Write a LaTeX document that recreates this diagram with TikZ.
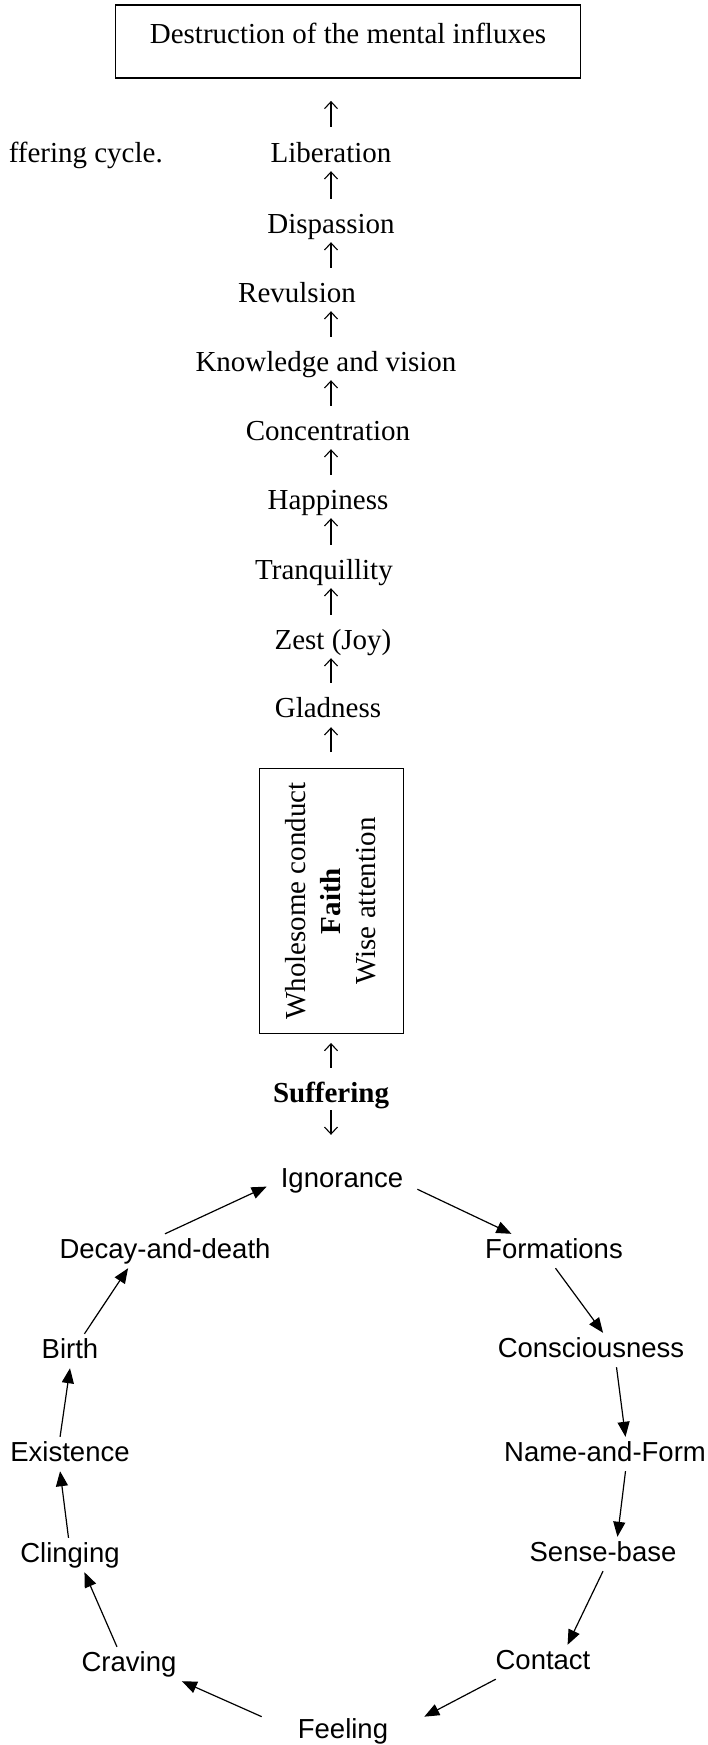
\documentclass[tikz,border=0pt]{standalone}
\usepackage{fontspec}
\setmainfont{Liberation Serif}
\newfontfamily\arialfont{Liberation Sans}
\usepackage{tikz}
\usetikzlibrary{arrows.meta}

\tikzset{
  stage/.style={inner sep=0pt, text height=20pt, text depth=6pt,
    font=\fontsize{29}{35}\selectfont},
  phase/.style={inner xsep=14pt, inner ysep=4pt, text height=20pt, text depth=6pt,
    font=\arialfont\fontsize{27.5}{33}\selectfont},
  upar/.style={line width=1.1pt, -{Straight Barb[length=7pt,width=13pt]},
    shorten >=3pt, shorten <=14pt},
  cyc/.style={line width=1.2pt, -{Triangle[length=15pt,width=12pt]}}
}

\begin{document}
\begin{tikzpicture}[x=1pt, y=-1pt]
\useasboundingbox (0,0) rectangle (707,1745);
% way out of suffering
\node[stage, text depth=15pt, draw, line width=1.8pt, minimum width=465pt, minimum height=73pt]
  (goal) at (348,41.5) {Destruction of the mental influxes};
\node[stage, anchor=east] (capt) at (163,155) {ffering cycle.};
\node[stage] (libe) at (331,155) {Liberation};
\node[stage] (disp) at (331,226) {Dispassion};
\node[stage] (revu) at (297,295) {Revulsion};
\node[stage] (know) at (326,364) {Knowledge and vision};
\node[stage] (conc) at (328,433) {Concentration};
\node[stage] (happ) at (328,502) {Happiness};
\node[stage] (tran) at (324,572) {Tranquillity};
\node[stage] (zest) at (333,642) {Zest (Joy)};
\node[stage] (glad) at (328,710) {Gladness};
% faith box
\node[draw, line width=0.9pt, minimum width=144pt, minimum height=265pt]
  (cond) at (331,901) {};
\node[rotate=90, align=center, font=\fontsize{29}{35}\selectfont] (condtxt) at (cond)
  {Wholesome conduct\\\textbf{Faith}\\Wise attention};
\node[stage] (suff) at (331,1095) {\textbf{Suffering}};
\draw[upar, shorten >=22pt, shorten <=15pt] (libe.north) -- (libe.north |- goal.south);
\foreach \a/\b in {disp/libe, revu/disp, know/revu, conc/know, happ/conc,
                   tran/happ, zest/tran, glad/zest}{
  \draw[upar] (\a.north -| libe) -- (\b.south -| libe);
}
\draw[upar, shorten <=16pt, shorten >=4pt] (cond.north) -- (glad.south -| cond);
\draw[upar, shorten <=14pt, shorten >=9pt] (suff.north) -- (cond.south);

% the twelve links
\node[phase] (ign) at (342,1180) {Ignorance};
\node[phase] (form) at (554,1251) {Formations};
\node[phase] (cons) at (591,1350) {Consciousness};
\node[phase] (name) at (605,1454) {Name-and-Form};
\node[phase] (sens) at (603,1554) {Sense-base};
\node[phase] (cont) at (543,1662) {Contact};
\node[phase, inner xsep=36pt] (feel) at (343,1731) {Feeling};
\node[phase] (crav) at (129,1664) {Craving};
\node[phase] (clin) at (70,1555) {Clinging};
\node[phase] (exis) at (70,1454) {Existence};
\node[phase] (birt) at (70,1351) {Birth};
\node[phase] (deca) at (165,1251) {Decay-and-death};
\draw[upar, shorten <=2pt, shorten >=28pt] (suff.south) -- (suff.south |- ign.north);
\draw[cyc] (ign.-7) -- (form.158);
\draw[cyc] (form.-85) -- (cons.55);
\draw[cyc] (cons.-34) -- (name.40);
\draw[cyc] (name.-40) -- (sens.50);
\draw[cyc] (sens.south) -- (cont.35);
\draw[cyc] (cont.-160) -- (feel.10);
\draw[cyc] (feel.170) -- (crav.-18);
\draw[cyc] (crav.125) -- (clin.-50);
\draw[cyc] (clin.95) -- (exis.-120);
\draw[cyc] (exis.120) -- (birt.-90);
\draw[cyc] (birt.50) -- (deca.-155);
\draw[cyc] (deca.90) -- (ign.185);
\end{tikzpicture}
\end{document}
